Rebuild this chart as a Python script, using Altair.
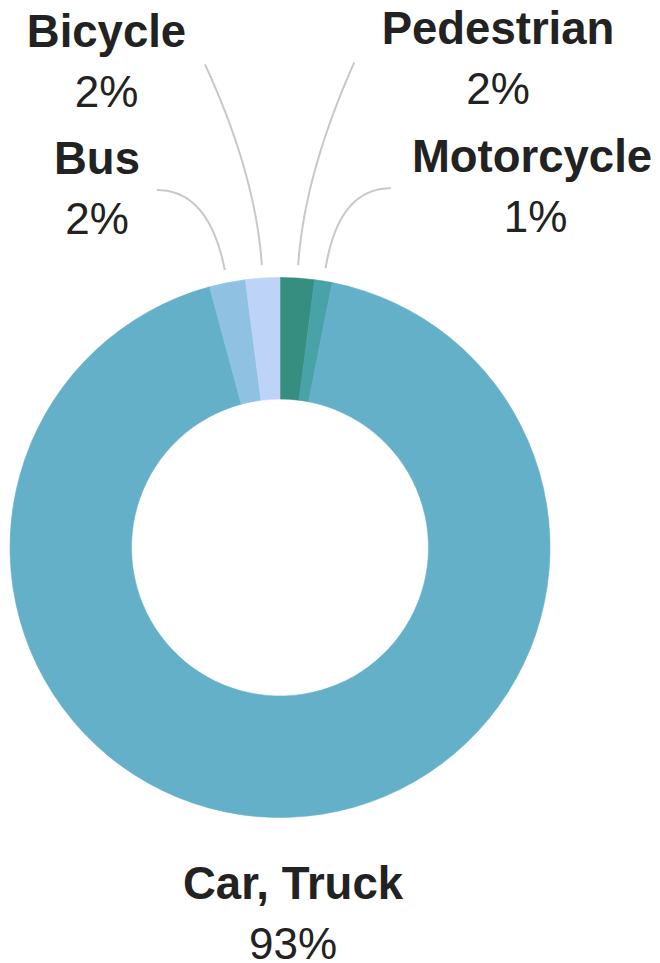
import math
import altair as alt
import pandas as pd

# ---- data ----
categories = ["Pedestrian", "Motorcycle", "Car, Truck", "Bus", "Bicycle"]
shares = [2.05, 1.05, 92.7, 2.15, 2.05]          # percent of total
pct_labels = ["2%", "1%", "93%", "2%", "2%"]
colors = ["#368e80", "#48a3a8", "#64b0c8", "#8fc1e3", "#bed3f8"]

# ---- layout (plot pixels) ----
W, H = 644, 955
CX, CY = 272, 539.5
R_OUT, R_IN = 270, 148.5
R_LINE = 283
LINE_GAP = 60
label_pos = {
    "Pedestrian": (490.0, 35.5),
    "Motorcycle": (524.0, 164.0),
    "Car, Truck": (285.0, 890.5),
    "Bus": (89.0, 165.5),
    "Bicycle": (98.5, 38.5),
}
pct_dx = {"Motorcycle": 3.5}
connector_start = {
    "Pedestrian": ((346.3, 54.3), "radial"),
    "Motorcycle": ((382.7, 180.3), "horizontal"),
    "Bus": ((148.7, 182.0), "horizontal"),
    "Bicycle": ((197.0, 56.3), "radial"),
}

df = pd.DataFrame({"category": categories, "share": shares,
                   "pct": pct_labels, "idx": list(range(len(categories)))})

# label table
lab_rows = []
for c, p in zip(categories, pct_labels):
    x, y = label_pos[c]
    lab_rows.append({"category": c, "x": x, "y": y, "name": c,
                     "px": x + pct_dx.get(c, 0.0),
                     "py": y + LINE_GAP, "pct": p})
labels = pd.DataFrame(lab_rows)

# connector curves from each slice's mid angle to its label
total = sum(shares)
cum = 0.0
line_rows = []
for c, v in zip(categories, shares):
    mid = (cum + v / 2) / total * 2 * math.pi
    cum += v
    if c not in connector_start:
        continue
    (sx, sy), kind = connector_start[c]
    dx, dy = math.sin(mid), -math.cos(mid)
    ex, ey = CX + R_LINE * dx, CY + R_LINE * dy
    if kind == "horizontal":
        t = (ey - sy) / math.cos(mid)
        cx_, cy_ = ex + t * dx, sy
    else:
        cx_, cy_ = ex + 90 * dx, ey + 90 * dy
    n = 40
    for i in range(n + 1):
        t = i / n
        bx = (1 - t) ** 2 * sx + 2 * (1 - t) * t * cx_ + t ** 2 * ex
        by = (1 - t) ** 2 * sy + 2 * (1 - t) * t * cy_ + t ** 2 * ey
        line_rows.append({"category": c, "t": t, "x": bx, "y": by})
lines = pd.DataFrame(line_rows)

color_scale = alt.Scale(domain=categories, range=colors)

arcs = alt.Chart(df).mark_arc(innerRadius=R_IN, outerRadius=R_OUT, strokeWidth=0.6).encode(
    theta=alt.Theta("share:Q", stack=True),
    color=alt.Color("category:N", scale=color_scale, legend=None),
    stroke=alt.Stroke("category:N", scale=color_scale, legend=None),
    order=alt.Order("idx:Q"),
    x=alt.value(CX),
    y=alt.value(CY),
)

conn = alt.Chart(lines).mark_line(color="#c8c8c8", strokeWidth=2).encode(
    x=alt.X("x:Q", scale=None, axis=None),
    y=alt.Y("y:Q", scale=None, axis=None),
    detail="category:N",
    order="t:Q",
)

names = alt.Chart(labels).mark_text(
    font="Liberation Sans", fontSize=45.5, fontWeight="bold", color="#222222",
    align="center", baseline="alphabetic").encode(
    x=alt.X("x:Q", scale=None, axis=None),
    y=alt.Y("y:Q", scale=None, axis=None),
    text="name:N",
)

pcts = alt.Chart(labels).mark_text(
    font="Liberation Sans", fontSize=44, fontWeight="normal", color="#222222",
    align="center", baseline="alphabetic").encode(
    x=alt.X("px:Q", scale=None, axis=None),
    y=alt.Y("py:Q", scale=None, axis=None),
    text="pct:N",
)

chart = alt.layer(arcs, conn, names, pcts).properties(
    width=W, height=H, padding=0,
    autosize=alt.AutoSizeParams(type="none"),
).configure_view(stroke=None)

chart.save("out.html", embed_options={"renderer": "svg", "actions": False})
